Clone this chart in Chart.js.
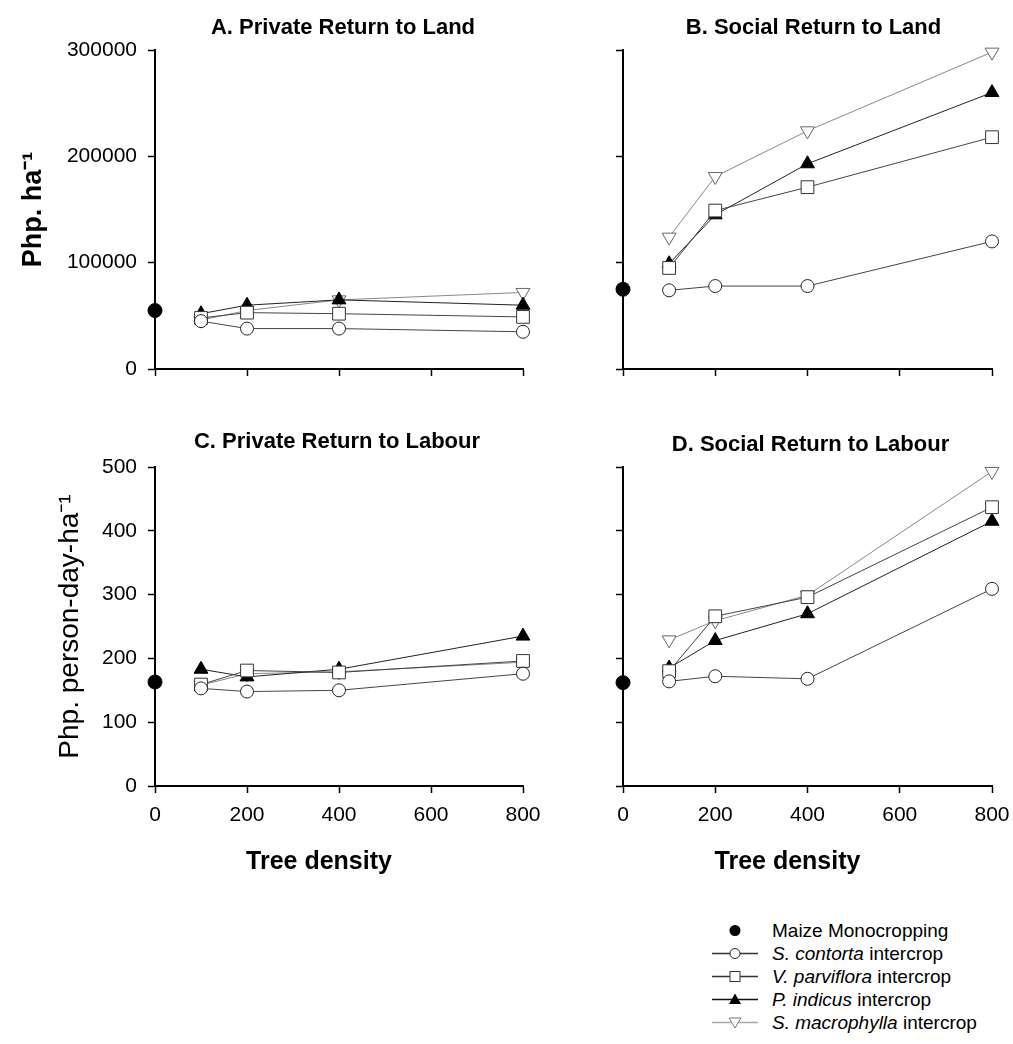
<!DOCTYPE html>
<html>
<head>
<meta charset="utf-8">
<script src="https://cdn.jsdelivr.net/npm/chart.js@4.4.1/dist/chart.umd.min.js"></script>
<style>
  html, body { margin: 0; padding: 0; background: #fff; overflow: hidden; }
  body { width: 1013px; height: 1044px; position: relative; font-family: "Liberation Sans", Arial, sans-serif; }
  canvas { position: absolute; }
  #legend { position: absolute; left: 700px; top: 919px; font-size: 19px; color: #000; }
  .row { height: 23px; display: flex; align-items: center; white-space: nowrap; }
  .row svg { width: 72px; height: 23px; flex: none; }
</style>
</head>
<body>
<canvas id="panelA" width="686" height="400" style="left:0;top:0"></canvas>
<canvas id="panelB" width="548" height="400" style="left:540px;top:0"></canvas>
<canvas id="panelC" width="674" height="500" style="left:0;top:400px"></canvas>
<canvas id="panelD" width="542" height="500" style="left:540px;top:400px"></canvas>

<div id="legend">
  <div class="row"><svg><circle cx="35" cy="11.5" r="5.5" fill="#000"/></svg>Maize Monocropping</div>
  <div class="row"><svg><line x1="12" y1="11.5" x2="58" y2="11.5" stroke="#333" stroke-width="1.3"/><circle cx="35" cy="11.5" r="5" fill="#fff" stroke="#222"/></svg><i>S. contorta</i>&nbsp;intercrop</div>
  <div class="row"><svg><line x1="12" y1="11.5" x2="58" y2="11.5" stroke="#333" stroke-width="1.3"/><rect x="30" y="6.5" width="10" height="10" fill="#fff" stroke="#333"/></svg><i>V. parviflora</i>&nbsp;intercrop</div>
  <div class="row"><svg><line x1="12" y1="11.5" x2="58" y2="11.5" stroke="#111" stroke-width="1.3"/><polygon points="35,5.5 41,16 29,16" fill="#000"/></svg><i>P. indicus</i>&nbsp;intercrop</div>
  <div class="row"><svg><line x1="12" y1="11.5" x2="58" y2="11.5" stroke="#aaa" stroke-width="1.3"/><polygon points="29,7 41,7 35,17" fill="#fff" stroke="#777"/></svg><i>S. macrophylla</i>&nbsp;intercrop</div>
</div>

<script>
// Tree densities (trees per ha) for the intercrops; maize monocrop sits at 0
const treeDensity = [100, 200, 400, 800];
const xTicks = [0, 200, 400, 600, 800];

// A. Private return to land (Php/ha)
const maizeA = 55000;
const contortaA = [45000, 38000, 38000, 35000];
const parvifloraA = [48000, 53000, 52000, 49000];
const indicusA = [52000, 60000, 65000, 60000];
const macrophyllaA = [46000, 55000, 65000, 72000];

// B. Social return to land (Php/ha)
const maizeB = 75000;
const contortaB = [74000, 78000, 78000, 120000];
const parvifloraB = [95000, 149000, 171000, 218000];
const indicusB = [99000, 145000, 193000, 260000];
const macrophyllaB = [124000, 181000, 224000, 298000];

// C. Private return to labour (Php/person-day/ha)
const maizeC = 163;
const contortaC = [153, 148, 150, 176];
const parvifloraC = [159, 181, 178, 196];
const indicusC = [183, 171, 183, 235];
const macrophyllaC = [158, 176, 179, 194];

// D. Social return to labour (Php/person-day/ha)
const maizeD = 162;
const contortaD = [164, 172, 168, 309];
const parvifloraD = [180, 266, 296, 437];
const indicusD = [185, 228, 270, 415];
const macrophyllaD = [229, 259, 299, 493];

const landTicks = [0, 100000, 200000, 300000];
const labourTicks = [0, 100, 200, 300, 400, 500];

const FONT = '"Liberation Sans", Arial, sans-serif';
const TITLE_FONT = "bold 22px " + FONT;
const XTITLE_FONT = "bold 25px " + FONT;

// Panel titles and x titles, centred on the plot area with a small shift
const textosPlugin = {
  id: "textos",
  afterDraw(chart, args, opts) {
    const ctx = chart.ctx;
    const area = chart.chartArea;
    const centro = (area.left + area.right) / 2;
    ctx.save();
    ctx.fillStyle = "#000";
    ctx.textAlign = "center";
    ctx.textBaseline = "middle";
    (opts.items || []).forEach((it) => {
      ctx.font = it.font;
      ctx.fillText(it.text, centro + it.dx, it.y);
    });
    ctx.restore();
  },
};

// turn a list of values into {x, y} points
function puntos(valores) {
  return valores.map((v, i) => ({ x: treeDensity[i], y: v }));
}

function series(maize, contorta, parviflora, indicus, macrophylla) {
  return [
    {
      label: "Maize Monocropping",
      data: [{ x: 0, y: maize }],
      showLine: false,
      pointStyle: "circle",
      pointRadius: 7,
      backgroundColor: "#000",
      borderColor: "#000",
    },
    {
      label: "S. contorta intercrop",
      data: puntos(contorta),
      pointStyle: "circle",
      pointRadius: 6.5,
      pointBorderWidth: 1,
      pointBackgroundColor: "#fff",
      pointBorderColor: "#222",
      borderColor: "#444",
      borderWidth: 1,
    },
    {
      label: "V. parviflora intercrop",
      data: puntos(parviflora),
      pointStyle: "rect",
      pointRadius: 9,
      pointBorderWidth: 1,
      pointBackgroundColor: "#fff",
      pointBorderColor: "#333",
      borderColor: "#444",
      borderWidth: 1,
    },
    {
      label: "P. indicus intercrop",
      data: puntos(indicus),
      pointStyle: "triangle",
      pointRadius: 8,
      pointBackgroundColor: "#000",
      pointBorderColor: "#000",
      pointBorderWidth: 1,
      borderColor: "#222",
      borderWidth: 1,
    },
    {
      label: "S. macrophylla intercrop",
      data: puntos(macrophylla),
      pointStyle: "triangle",
      pointRotation: 180,
      pointRadius: 8,
      pointBackgroundColor: "#fff",
      pointBorderColor: "#666",
      pointBorderWidth: 1,
      borderColor: "#888",
      borderWidth: 1,
    },
  ];
}

function crearPanel(id, cfg, datasets) {
  const ctx = document.getElementById(id).getContext("2d");
  const items = [{ text: cfg.title, font: TITLE_FONT, dx: cfg.titleDx, y: cfg.titleY }];
  if (cfg.showXLabels) {
    items.push({ text: "Tree density", font: XTITLE_FONT, dx: -20, y: 462 });
  }
  return new Chart(ctx, {
    type: "line",
    data: { datasets: datasets },
    plugins: [textosPlugin],
    options: {
      responsive: false,
      animation: false,
      events: [],
      layout: { padding: { left: 0, right: cfg.padRight, top: cfg.padTop, bottom: 0 } },
      plugins: {
        legend: { display: false },
        tooltip: { enabled: false },
        title: { display: false },
        textos: { items: items },
      },
      datasets: { line: { clip: false } },
      scales: {
        x: {
          type: "linear",
          min: 0,
          max: 800,
          afterBuildTicks: (axis) => { axis.ticks = xTicks.map((v) => ({ value: v })); },
          afterFit: (axis) => { axis.height = cfg.xHeight; },
          border: { display: true, color: "#000", width: 2 },
          grid: { drawOnChartArea: false, drawTicks: true, tickLength: 7, tickColor: "#000", tickWidth: 1.5 },
          ticks: { display: cfg.showXLabels, color: "#000", padding: 10, font: { family: FONT, size: 21 }, maxRotation: 0 },
        },
        y: {
          type: "linear",
          min: 0,
          max: cfg.ticks[cfg.ticks.length - 1],
          afterBuildTicks: (axis) => { axis.ticks = cfg.ticks.map((v) => ({ value: v })); },
          afterFit: (axis) => { axis.width = cfg.yWidth; },
          border: { display: true, color: "#000", width: 2 },
          grid: { drawOnChartArea: false, drawTicks: true, tickLength: 7, tickColor: "#000", tickWidth: 1.5 },
          ticks: {
            display: cfg.showYLabels,
            color: "#000",
            padding: 11,
            font: { family: FONT, size: 21 },
            callback: (v) => String(v),
          },
          title: {
            display: !!cfg.yTitle,
            text: cfg.yTitle || "",
            color: "#000",
            font: cfg.yTitleFont,
            padding: { top: cfg.yTitlePad, bottom: 0 },
          },
        },
      },
    },
  });
}

crearPanel("panelA", {
  title: "A. Private Return to Land",
  titleDx: 4,
  titleY: 28,
  padTop: 50,
  ticks: landTicks,
  yTitle: "Php. ha\u207B\u00B9",
  yTitleFont: { family: FONT, size: 27, weight: "bold", lineHeight: 1.2 },
  yTitlePad: 17,
  yWidth: 155,
  xHeight: 31,
  padRight: 163,
  showYLabels: true,
  showXLabels: false,
}, series(maizeA, contortaA, parvifloraA, indicusA, macrophyllaA));

crearPanel("panelB", {
  title: "B. Social Return to Land",
  titleDx: 6,
  titleY: 28,
  padTop: 50,
  ticks: landTicks,
  yWidth: 83,
  xHeight: 31,
  padRight: 96,
  showYLabels: false,
  showXLabels: false,
}, series(maizeB, contortaB, parvifloraB, indicusB, macrophyllaB));

crearPanel("panelC", {
  title: "C. Private Return to Labour",
  titleDx: -2,
  titleY: 42,
  padTop: 67,
  ticks: labourTicks,
  yTitle: "Php. person-day-ha\u207B\u00B9",
  yTitleFont: { family: FONT, size: 28, weight: "normal", lineHeight: 1.2 },
  yTitlePad: 53,
  yWidth: 155,
  xHeight: 114,
  padRight: 151,
  showYLabels: true,
  showXLabels: true,
}, series(maizeC, contortaC, parvifloraC, indicusC, macrophyllaC));

crearPanel("panelD", {
  title: "D. Social Return to Labour",
  titleDx: 3,
  titleY: 45,
  padTop: 67,
  ticks: labourTicks,
  yWidth: 83,
  xHeight: 114,
  padRight: 90,
  showYLabels: false,
  showXLabels: true,
}, series(maizeD, contortaD, parvifloraD, indicusD, macrophyllaD));
</script>
</body>
</html>
